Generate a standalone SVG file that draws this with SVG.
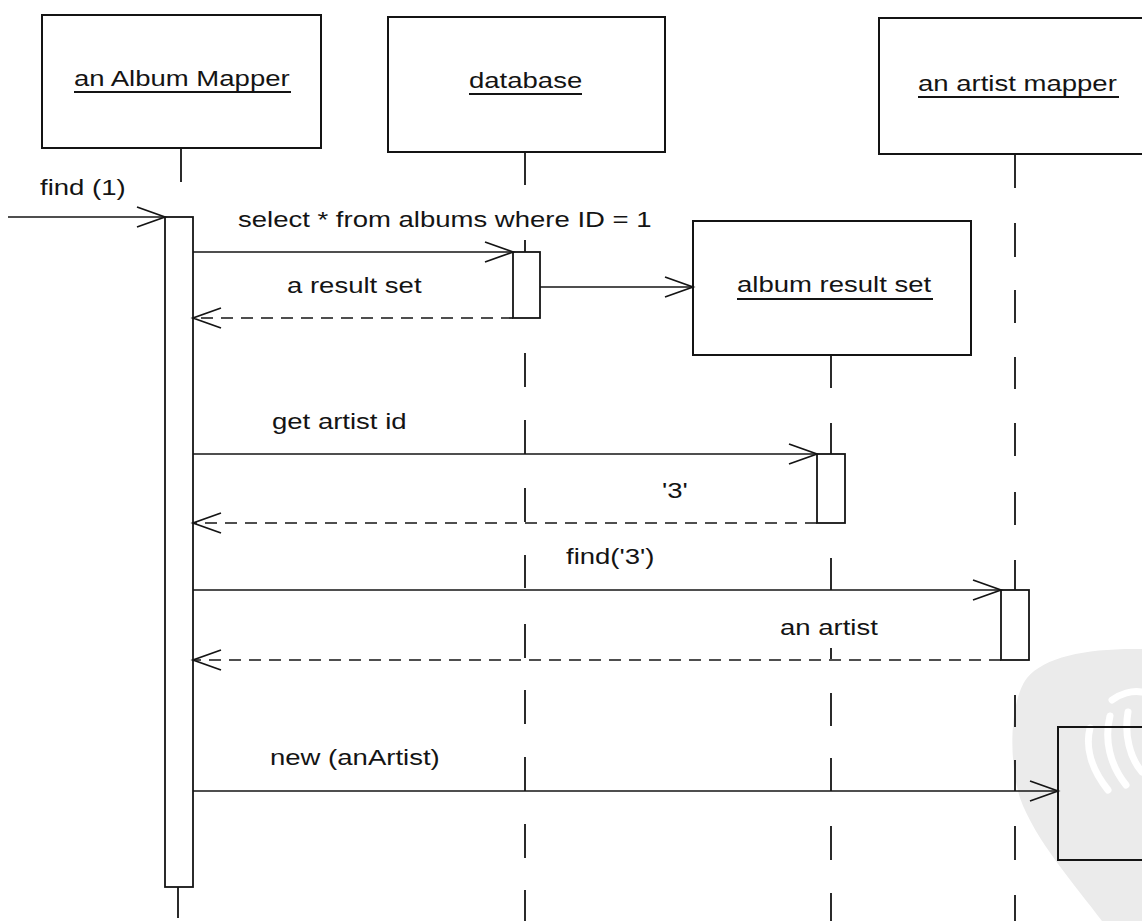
<svg xmlns="http://www.w3.org/2000/svg" width="1142" height="921" viewBox="0 0 1142 921">
<style>
.box{fill:none;stroke:#141414;stroke-width:2}
.bar{fill:#fff;stroke:#141414;stroke-width:1.8}
.life{fill:none;stroke:#141414;stroke-width:1.8}
.ul{stroke:#141414;stroke-width:1.8}
.msg{fill:none;stroke:#141414;stroke-width:1.7;marker-end:url(#arr)}
.ret{fill:none;stroke:#141414;stroke-width:1.7;stroke-dasharray:12 8;marker-end:url(#arr)}
.t{font-family:"Liberation Sans",Arial,Helvetica,sans-serif;font-size:21.5px;fill:#141414}
</style>
<defs>
<marker id="arr" markerWidth="32" markerHeight="26" refX="28" refY="11" orient="auto" markerUnits="userSpaceOnUse" overflow="visible">
<path d="M0,1 L28,11 L0,21" fill="none" stroke="#141414" stroke-width="1.7" stroke-dasharray="none"/>
</marker>
</defs>
<rect width="1142" height="921" fill="#fff"/>
<g id="watermark">
<path d="M1142,649 C1090,648 1045,656 1027,678 C1010,700 1008,760 1020,798 C1035,840 1075,885 1102,921 L1142,921 Z" fill="#ebebeb"/>
<g fill="none" stroke="#fff" stroke-width="7" stroke-linecap="round">
<path d="M1112,700 C1120,694 1132,690 1142,692"/>
<path d="M1090,728 C1085,748 1092,770 1108,790"/>
<path d="M1110,716 C1104,740 1110,765 1126,785"/>
<path d="M1128,712 C1124,735 1130,758 1142,772"/>
</g>
</g>
<g id="node-album-mapper">
<rect class="box" x="42" y="15" width="279" height="133"/>
<text class="t" transform="translate(74,86) scale(1.28,1)">an Album Mapper</text>
<line class="ul" x1="74" y1="92" x2="291" y2="92"/>
<path class="life" d="M181,148 V182 M178,887 V918"/>
<rect class="bar" x="165" y="217" width="28" height="670"/>
</g>
<g id="node-database">
<rect class="box" x="388" y="17" width="277" height="135"/>
<text class="t" transform="translate(469,88) scale(1.28,1)">database</text>
<line class="ul" x1="469" y1="94" x2="582" y2="94"/>
<path class="life" d="M525,152 V185 M525,240 V252 M525,353 V387 M525,420 V454 M525,488 V522 M525,555 V588 M525,624 V658 M525,690 V724 M525,757 V791 M525,824 V858 M525,890 V921"/>
<rect class="bar" x="513" y="252" width="27" height="66"/>
</g>
<g id="node-artist-mapper">
<rect class="box" x="879" y="18" width="300" height="136"/>
<text class="t" transform="translate(918,91) scale(1.28,1)">an artist mapper</text>
<line class="ul" x1="918" y1="97" x2="1119" y2="97"/>
<path class="life" d="M1015,154 V188 M1015,223 V257 M1015,290 V323 M1015,357 V389 M1015,423 V456 M1015,492 V525 M1015,560 V590 M1015,695 V727 M1015,760 V791 M1015,826 V860 M1015,895 V921"/>
<rect class="bar" x="1001" y="590" width="28" height="70"/>
</g>
<g id="node-album-result-set">
<rect class="box" x="693" y="221" width="278" height="134"/>
<text class="t" transform="translate(737,292) scale(1.28,1)">album result set</text>
<line class="ul" x1="737" y1="299" x2="933" y2="299"/>
<path class="life" d="M831,355 V388 M831,423 V454 M831,558 V590 M831,648 V659 M831,693 V726 M831,758 V791 M831,826 V860 M831,893 V921"/>
<rect class="bar" x="817" y="454" width="28" height="69"/>
</g>
<g id="node-new-artist">
<rect class="box" x="1058" y="727" width="120" height="133"/>
</g>
<g id="connectors">
<line class="msg" x1="8" y1="217" x2="165" y2="217"/>
<line class="msg" x1="193" y1="252" x2="513" y2="252"/>
<line class="ret" x1="513" y1="318" x2="193" y2="318"/>
<line class="msg" x1="540" y1="287" x2="693" y2="287"/>
<line class="msg" x1="193" y1="454" x2="817" y2="454"/>
<line class="ret" x1="817" y1="523" x2="193" y2="523"/>
<line class="msg" x1="193" y1="590" x2="1001" y2="590"/>
<line class="ret" x1="1001" y1="660" x2="193" y2="660"/>
<line class="msg" x1="193" y1="791" x2="1058" y2="791"/>
<text class="t" transform="translate(40,195) scale(1.28,1)">find (1)</text>
<text class="t" transform="translate(238,227) scale(1.28,1)">select  * from albums where ID = 1</text>
<text class="t" transform="translate(287,293) scale(1.28,1)">a result set</text>
<text class="t" transform="translate(272,429) scale(1.28,1)">get artist id</text>
<text class="t" transform="translate(662,498) scale(1.28,1)">'3'</text>
<text class="t" transform="translate(566,564) scale(1.28,1)">find('3')</text>
<text class="t" transform="translate(780,635) scale(1.28,1)">an artist</text>
<text class="t" transform="translate(270,765) scale(1.28,1)">new (anArtist)</text>
</g>
</svg>
